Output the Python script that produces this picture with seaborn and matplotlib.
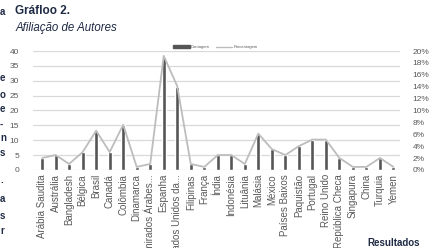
import numpy as np
import pandas as pd
import matplotlib
matplotlib.use("Agg")
import matplotlib.pyplot as plt
import seaborn as sns
from matplotlib.patches import Patch
from matplotlib.lines import Line2D

# ---------------------------------------------------------------------------
# Data
# ---------------------------------------------------------------------------
paises = [
    "Arábia Saudita", "Austrália", "Bangladesh", "Bélgica", "Brasil",
    "Canadá", "Colômbia", "Dinamarca", "Emirados Árabes...", "Espanha",
    "Estados Unidos da...", "Filipinas", "França", "Índia", "Indonésia",
    "Lituânia", "Malásia", "México", "Países Baixos", "Paquistão",
    "Portugal", "Reino Unido", "República Checa", "Singapura", "China",
    "Turquia", "Yemen",
]
contagem = [4, 5, 2, 6, 13, 6, 15, 1, 2, 38, 28, 2, 1, 5, 5,
            2, 12, 7, 5, 8, 10, 10, 4, 1, 1, 4, 1]
porcentagem = [2.0, 2.5, 1.0, 3.0, 6.6, 3.0, 7.6, 0.5, 1.0, 19.2, 14.1, 1.0, 0.5, 2.5, 2.5,
               1.0, 6.1, 3.5, 2.5, 4.0, 5.1, 5.1, 2.0, 0.5, 0.5, 2.0, 0.5]

left_ticks = list(range(0, 41, 5))
right_ticks = list(range(0, 21, 2))

BAR = "#555555"
LINE = "#bdbdbd"
GRID = "#d9d9d9"
TICK = "#595959"
NAVY = "#1f2a44"

sns.set_theme(style="white")
plt.rcParams["font.family"] = ["Liberation Sans", "DejaVu Sans"]

df = pd.DataFrame({"pais": paises, "contagem": contagem, "pct": porcentagem})

fig = plt.figure(figsize=(4.35, 2.48), dpi=100)
ax = fig.add_axes([0.076, 0.315, 0.844, 0.479])

sns.barplot(data=df, x="pais", y="contagem", color=BAR, width=0.3,
            saturation=1, ax=ax)
ax.set_ylim(0, 40)
ax.set_yticks(left_ticks)
ax.set_xlim(-0.67, 26.5)
ax.yaxis.grid(True, color=GRID, lw=0.9)
ax.set_axisbelow(True)
ax.set_xlabel("")
ax.set_ylabel("")
ax.tick_params(axis="y", labelsize=6, colors=TICK, length=0, pad=10)
ax.tick_params(axis="x", labelsize=7, colors=TICK, length=0, pad=3)
plt.setp(ax.get_xticklabels(), rotation=90)
for s in ax.spines.values():
    s.set_visible(False)

ax2 = ax.twinx()
sns.lineplot(x=np.arange(len(paises)), y=df["pct"], color=LINE, lw=1.3, ax=ax2)
ax2.set_ylim(0, 20)
ax2.set_yticks(right_ticks)
ax2.set_yticklabels([f"{t}%" for t in right_ticks])
ax2.set_ylabel("")
ax2.tick_params(axis="y", labelsize=6, colors=TICK, length=0, pad=9)
for s in ax2.spines.values():
    s.set_visible(False)

handles = [Patch(color=BAR, label="Contagem"),
           Line2D([], [], color=LINE, lw=1, label="Porcentagem")]
fig.legend(handles=handles, loc="center", bbox_to_anchor=(0.495, 0.81),
           ncol=2, frameon=False, fontsize=3, handlelength=4, handleheight=0.9,
           columnspacing=1.5, handletextpad=0.2, labelcolor=TICK)

fig.text(0.035, 0.955, "Gráfloo 2.", fontsize=8.5, fontweight="bold",
         color=NAVY, va="center")
fig.text(0.035, 0.888, "Afiliação de Autores", fontsize=8.3, style="italic",
         color=NAVY, va="center")
fig.text(0.845, 0.022, "Resultados", fontsize=7, fontweight="bold",
         color=NAVY, va="center")

# letters of the neighbouring column, clipped at the left edge
for ch, y in [("a", 12), ("e", 78), ("o", 95), ("e", 109), ("-", 125),
              ("n", 138), ("s", 153), (".", 180), ("a", 199), ("s", 216),
              ("r", 231)]:
    fig.text(0.0, 1 - y / 248, ch, fontsize=7, fontweight="bold",
             color=NAVY, va="center")

fig.savefig("out.png", dpi=100)
